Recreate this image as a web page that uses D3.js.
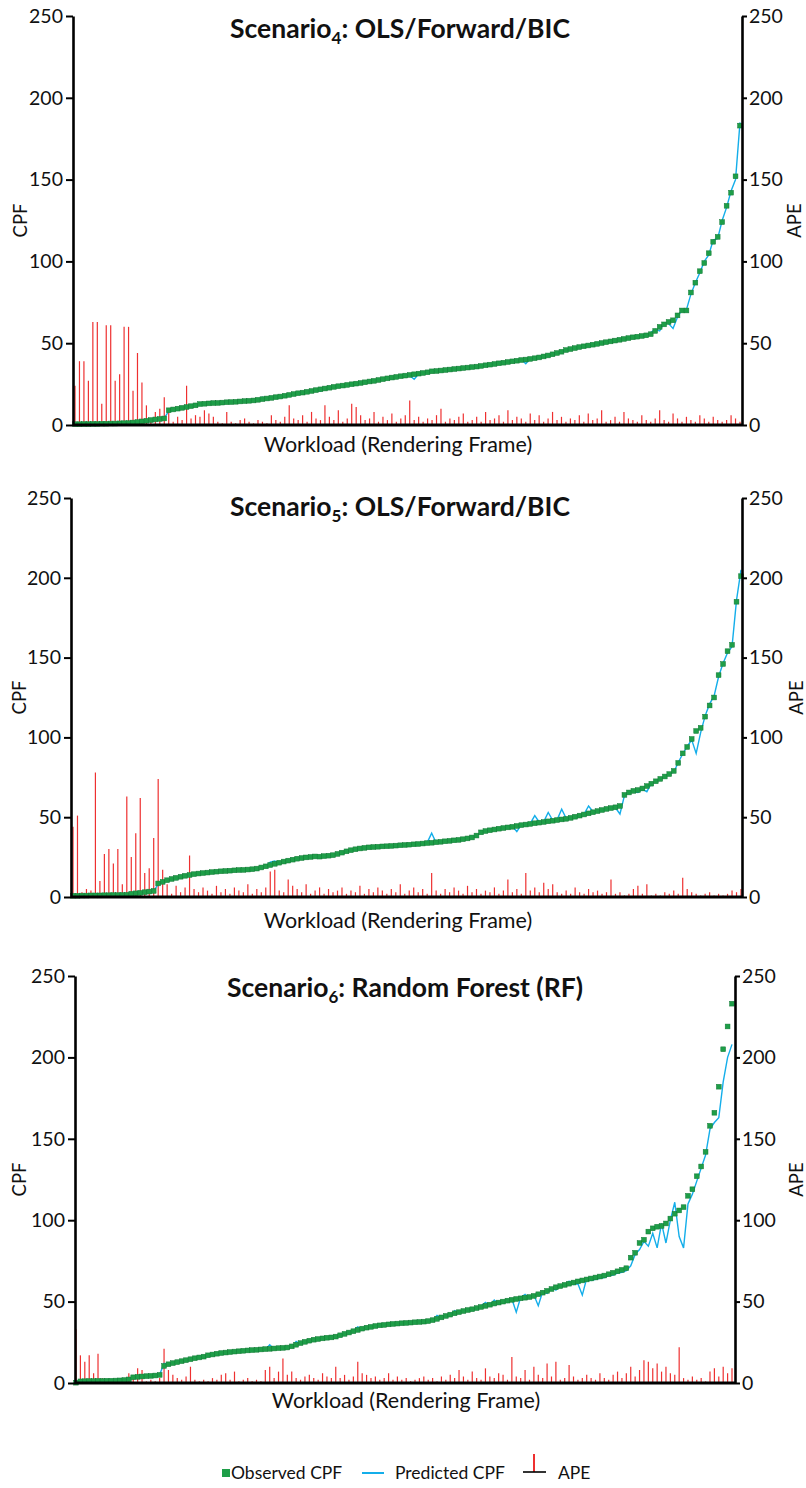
<!DOCTYPE html>
<html>
<head>
<meta charset="utf-8">
<script src="https://cdn.jsdelivr.net/npm/d3@7"></script>
<style>
body { margin: 0; background: #fff; }
svg { font-family: Lato, "Open Sans", sans-serif; }
</style>
</head>
<body>
<svg id="chart" width="806" height="1488"></svg>
<script>
// Global Variables
// Scenario 4 (OLS/Forward/BIC), frames sorted by observed CPF
var obs4 = [0.5,0.5,0.6,0.6,0.7,0.7,0.8,0.8,0.9,0.9,
  1.0,1.1,1.2,1.5,1.8,2.2,2.6,3.0,3.4,3.7,
  4.0,9.0,9.5,10.0,10.5,11.0,11.5,12.0,12.8,13.0,
  13.2,13.4,13.5,13.7,13.9,14.0,14.2,14.4,14.6,14.8,
  15.0,15.4,15.8,16.2,16.6,17.0,17.4,17.9,18.4,18.9,
  19.4,19.8,20.3,20.8,21.3,21.8,22.3,22.8,23.3,23.7,
  24.1,24.5,24.9,25.3,25.7,26.1,26.6,27.0,27.5,28.0,
  28.5,29.0,29.4,29.8,30.2,30.6,31.0,31.4,31.8,32.2,
  32.8,33.0,33.3,33.6,33.9,34.2,34.5,34.8,35.1,35.4,
  35.7,36.1,36.5,36.9,37.3,37.7,38.1,38.5,38.9,39.3,
  39.7,40.0,40.4,40.8,41.3,41.9,42.5,43.2,44.0,44.8,
  45.8,46.4,47.0,47.6,48.1,48.6,49.1,49.6,50.1,50.6,
  51.1,51.6,52.1,52.6,53.1,53.6,54.0,54.4,54.8,55.5,
  57.5,60,61.5,63,64,67,70,70,81,87,
  94,99,105,112,115,124,134,142,152,183];
var pred4 = [0.6,0.4,0.7,0.5,0.8,0.6,0.9,0.7,1.0,0.8,
  1.1,1.0,1.3,1.4,1.9,2.1,2.7,2.9,3.5,3.6,
  4.1,8.6,9.8,9.7,10.8,10.4,11.8,12.3,12.5,13.3,
  13.0,13.7,13.2,14.0,13.6,14.3,13.9,14.7,14.3,15.1,
  14.7,15.6,16.9,15.9,16.8,16.7,17.7,17.6,18.7,18.5,
  19.7,19.5,20.6,20.4,21.7,20.6,22.6,22.5,23.6,23.3,
  24.4,24.2,25.3,24.7,26.0,25.8,26.9,26.7,27.8,27.7,
  28.8,28.6,29.7,29.5,30.5,30.3,28.0,31.1,32.1,31.9,
  33.1,32.7,33.6,33.3,34.2,33.9,34.8,34.5,35.4,35.1,
  36.0,35.8,36.8,36.6,37.6,37.4,38.4,38.2,39.2,38.8,
  40.0,37.5,40.8,40.6,41.6,41.6,42.8,42.9,44.3,44.5,
  46.1,46.1,47.3,47.3,48.4,48.3,49.4,49.3,50.4,50.3,
  51.4,51.3,52.4,52.3,53.4,53.3,54.3,54.7,54.5,56.5,
  58.5,57.5,62.5,62.0,59.0,66.0,70.5,70.5,80,87,
  93,100,104,113,114,125,133,143,150,185];
var ape4 = [24,39,39,27,63,63,13,61,61,27,
  31,60,60,21,44,26,12,4,8,10,
  17,8,2,5,3,24,4,6,5,9,
  7,5,2,1,8,2,1,3,4,2,
  1,3,2,1,6,3,2,5,12,4,
  3,6,2,8,4,3,12,5,3,9,
  2,4,13,11,6,3,4,8,2,5,
  3,7,2,4,6,15,3,5,2,4,
  3,6,10,2,4,3,5,7,2,3,
  5,2,8,3,4,6,2,9,3,5,
  4,2,7,3,6,2,4,8,3,5,
  2,4,3,6,2,7,3,4,9,2,
  3,5,2,8,4,3,2,6,3,2,
  4,9,3,2,7,4,2,5,3,2,
  6,4,2,5,3,2,3,6,4,2];

// Scenario 5 (OLS/Forward/BIC)
var obs5 = [0.8,0.8,0.9,0.9,1.0,1.0,1.0,1.1,1.1,1.2,
  1.2,1.3,1.4,2.0,2.3,2.6,3.0,3.4,3.8,8.5,
  9.5,10.5,11.3,12.0,12.7,13.3,13.8,14.3,14.7,15.0,
  15.3,15.6,15.9,16.1,16.3,16.5,16.7,16.9,17.0,17.2,
  17.4,17.8,18.5,19.2,20.0,20.8,21.5,22.2,22.8,23.4,
  24.0,24.4,24.8,25.1,25.4,25.3,25.6,25.9,26.2,27.0,
  27.8,28.6,29.3,29.9,30.4,30.8,31.1,31.3,31.5,31.7,
  31.8,32.0,32.2,32.4,32.6,32.8,33.0,33.2,33.5,33.8,
  34.0,34.3,34.6,34.9,35.2,35.5,35.8,36.2,36.7,37.3,
  38.5,40.5,41.3,41.8,42.3,42.8,43.2,43.6,44.0,44.5,
  45.0,45.4,45.8,46.2,46.6,47.0,47.4,47.8,48.2,48.6,
  49.0,49.6,50.3,51.0,51.7,52.4,53.1,53.8,54.5,55.2,
  55.7,56.2,57.0,64.0,65.5,66.5,67.0,68.0,69.5,71.0,
  72.5,74.0,75.5,77.0,79.0,84.0,90.0,94.0,99.0,104.0,
  106,113,120,125,139,146,154,158,185,201];
var pred5 = [0.9,0.7,1.0,0.8,1.1,0.9,1.1,1.0,1.2,1.1,
  1.3,1.2,1.5,2.1,2.2,2.7,2.9,3.5,3.7,8.0,
  9.8,10.2,11.6,11.0,12.9,13.5,14.0,14.6,14.5,15.3,
  15.0,15.9,15.6,16.4,16.0,16.8,16.4,17.2,16.8,17.5,
  17.1,18.1,18.2,19.6,21.8,22.5,21.2,22.6,22.4,23.8,
  23.7,24.8,24.5,25.4,25.1,25.6,25.5,26.5,26.2,27.3,
  27.5,28.9,29.0,30.2,30.1,31.1,30.8,31.6,31.2,32.0,
  31.5,32.3,31.9,32.7,32.3,33.1,32.7,33.5,33.2,34.1,
  40.0,34.0,34.9,34.3,35.5,35.2,36.1,35.9,37.0,37.0,
  38.8,40.2,41.6,41.5,42.6,42.5,43.5,43.3,44.3,41.0,
  45.3,45.1,46.1,51.0,46.9,47.3,53.0,48.1,48.5,55.0,
  49.3,49.3,50.6,50.7,52.0,57.0,53.4,53.5,54.8,54.9,
  56.0,55.9,52.0,63.5,65.8,66.0,65.5,67.6,66.0,71.3,
  72.2,74.3,75.2,77.3,78.2,84.3,89.7,94.3,98.5,90.0,
  103,113.5,121,126,138,146.5,153,157,186,205];
var ape5 = [44,51,3,5,4,78,10,27,30,21,
  30,8,63,25,40,62,15,18,37,74,
  17,8,2,7,3,6,26,5,3,6,
  4,2,7,3,5,2,6,4,3,8,
  2,5,3,6,16,17,4,3,11,7,
  5,3,8,2,4,6,2,5,3,4,
  6,2,4,3,7,2,5,3,6,4,
  2,5,3,8,2,4,6,3,5,2,
  15,4,2,5,3,6,4,2,7,3,
  5,2,4,3,6,2,4,11,3,5,
  2,15,4,6,3,9,5,8,3,2,
  4,2,6,3,2,5,3,4,2,3,
  11,2,3,1,2,5,7,2,8,1,
  2,1,3,2,4,2,12,5,3,2,
  1,2,3,1,2,1,2,4,3,5];

// Scenario 6 (Random Forest)
var obs6 = [0.2,1.0,1.1,1.2,1.2,1.3,1.3,1.4,1.4,1.5,
  1.6,1.8,2.2,3.5,3.8,4.0,4.2,4.4,4.6,5.0,
  10.5,11.5,12.2,12.8,13.4,14.0,14.6,15.2,15.7,16.2,
  17.0,17.5,18.0,18.4,18.7,19.0,19.3,19.5,19.8,20.0,
  20.2,20.4,20.6,20.8,21.0,21.2,21.4,21.6,21.8,22.5,
  23.5,24.5,25.3,26.0,26.6,27.0,27.4,27.8,28.0,28.5,
  29.3,30.2,31.0,31.8,32.6,33.4,34.0,34.5,35.0,35.4,
  35.7,36.0,36.3,36.5,36.7,36.9,37.1,37.3,37.5,37.7,
  38.0,38.6,39.4,40.3,41.2,42.0,42.8,43.5,44.2,44.8,
  45.3,46.0,46.7,47.4,48.1,48.8,49.4,50.0,50.6,51.1,
  51.6,52.0,52.4,52.8,53.5,54.5,55.5,56.6,57.7,58.8,
  59.5,60.3,61.0,61.7,62.4,63.0,63.6,64.2,64.8,65.4,
  66.0,66.8,67.7,68.6,69.5,70.5,77.0,80.0,86.0,88.0,
  93,95,96,96.5,98,101,104,106,108,115,
  119,127,133,142,158,166,182,205,219,233];
var pred6 = [0.5,1.2,0.9,1.4,1.0,1.5,1.1,1.6,1.2,1.7,
  1.4,2.0,2.4,3.3,4.0,3.8,4.4,4.2,4.8,5.2,
  12.0,11.2,12.6,12.5,13.8,13.9,15.0,15.5,16.4,16.0,
  17.2,17.3,18.2,18.1,19.0,18.8,19.6,19.3,20.1,19.8,
  20.5,20.1,21.0,20.5,23.5,20.8,21.8,21.2,22.2,22.0,
  25.5,23.8,25.8,25.7,26.9,27.4,27.2,28.3,27.7,29.0,
  29.0,30.6,30.8,32.2,34.5,32.9,34.5,34.2,35.4,35.1,
  36.0,35.7,36.7,36.2,37.0,36.6,37.5,37.0,37.9,37.4,
  38.4,38.3,41.5,40.0,41.6,41.5,44.5,43.2,44.6,44.3,
  45.8,45.4,47.3,49.5,47.5,51.0,48.5,50.4,49.5,51.6,
  43.5,52.6,54.5,52.0,54.0,47.5,56.2,55.0,58.5,57.0,
  60.2,59.3,62.5,60.5,61.0,54.0,64.3,63.0,63.7,64.3,
  64.8,66.0,66.3,67.5,68.0,69.0,72.0,79.0,82.0,87.0,
  84.0,92.0,83.0,98.0,86.0,100.0,111.0,90.0,83.0,110.0,
  116,124,132,140,156,160,163,185,200,208];
var ape6 = [33,17,13,17,6,18,3,2,1,2,
  1,3,6,4,9,8,1,2,1,3,
  21,8,5,3,2,4,10,2,1,2,
  1,3,2,5,6,2,7,1,2,3,
  1,2,1,8,10,3,7,15,5,7,
  3,2,4,5,3,2,6,4,3,10,
  3,5,2,4,13,6,5,3,4,2,
  3,6,2,4,2,3,1,2,3,4,
  2,3,1,4,2,5,3,8,4,2,
  7,3,2,9,4,3,6,5,2,16,
  4,3,8,2,10,5,3,12,4,13,
  2,3,11,4,2,3,5,3,2,6,
  3,2,5,7,3,6,10,4,8,14,
  13,9,12,7,10,6,5,22,3,2,
  4,2,3,1,7,9,4,10,6,9];

var yTicks = [0, 50, 100, 150, 200, 250];
var legendLabels = ["Observed CPF", "Predicted CPF", "APE"];

var green = "#1e9e48", blue = "#14aeea", red = "#ee3030";

var svg = d3.select("#chart");

// Functions
function makePanel(obs, pred, ape, title, box) {
    var g = svg.append("g");

    var x = d3.scaleLinear().domain([0, obs.length - 1]).range([box.x0, box.x1]);
    var y = d3.scaleLinear().domain([0, 250]).range([box.bottom, box.top]);
    var y2 = d3.scaleLinear().domain([0, 250]).range([box.bottom, box.top]);

    // APE bars
    g.append("g").selectAll("line")
        .data(ape)
        .enter().append("line")
          .attr("x1", function(d, i) { return x(i); })
          .attr("x2", function(d, i) { return x(i); })
          .attr("y1", y2(0))
          .attr("y2", function(d) { return y2(d); })
          .style("stroke", red)
          .style("stroke-width", 1.2);

    // Predicted CPF line
    var valueline = d3.line()
        .x(function(d, i) { return x(i); })
        .y(function(d) { return y(d); });
    g.append("path")
        .attr("d", valueline(pred))
        .style("fill", "none")
        .style("stroke", blue)
        .style("stroke-width", 1.4);

    // Observed CPF markers
    g.append("g").selectAll("rect")
        .data(obs)
        .enter().append("rect")
          .attr("x", function(d, i) { return x(i) - 2.4; })
          .attr("y", function(d) { return y(d) - 2.4; })
          .attr("width", 4.8)
          .attr("height", 4.8)
          .style("fill", green)
          .style("stroke", "#127a36")
          .style("stroke-width", 0.5);

    // Left axis
    var la = g.append("g")
        .attr("transform", "translate(" + box.left + ",0)")
        .call(d3.axisLeft(y).tickValues(yTicks).tickSize(7).tickSizeOuter(0).tickPadding(3));
    // Right axis
    var ra = g.append("g")
        .attr("transform", "translate(" + box.right + ",0)")
        .call(d3.axisRight(y2).tickValues(yTicks).tickSize(5).tickSizeOuter(0).tickPadding(2));
    [la, ra].forEach(function(a) {
        a.select(".domain").style("stroke", "#000").style("stroke-width", 2.6);
        a.selectAll(".tick line").style("stroke", "#000").style("stroke-width", 2);
        a.selectAll(".tick text").style("font-size", "19.5px").style("fill", "#111")
            .style("font-family", "Lato, sans-serif");
    });

    // Bottom axis line
    g.append("line")
        .attr("x1", box.left).attr("x2", box.right)
        .attr("y1", y(0)).attr("y2", y(0))
        .style("stroke", "#000").style("stroke-width", 3);

    // Title with subscript
    var t = g.append("text")
        .attr("x", box.titleX).attr("y", box.titleY)
        .attr("text-anchor", "middle")
        .style("font-size", "26.5px").style("font-weight", "bold").style("fill", "#111");
    t.append("tspan").text(title[0]);
    t.append("tspan").attr("dy", 6).style("font-size", "17px").text(title[1]);
    t.append("tspan").attr("dy", -6).text(title[2]);

    // Axis titles
    g.append("text")
        .attr("transform", "translate(" + box.cpfX + "," + (box.top + box.bottom) / 2 + ") rotate(-90)")
        .attr("text-anchor", "middle").attr("dy", "0.35em")
        .style("font-size", "18.5px").style("fill", "#111")
        .text("CPF");
    g.append("text")
        .attr("transform", "translate(" + box.apeX + "," + (box.top + box.bottom) / 2 + ") rotate(-90)")
        .attr("text-anchor", "middle").attr("dy", "0.35em")
        .style("font-size", "18.5px").style("fill", "#111")
        .text("APE");
    g.append("text")
        .attr("x", box.xLabelX).attr("y", box.xLabelY)
        .attr("text-anchor", "middle")
        .style("font-size", "21.5px").style("fill", "#111")
        .text("Workload (Rendering Frame)");
}

makePanel(obs4, pred4, ape4, ["Scenario", "4", ": OLS/Forward/BIC"],
    {left: 73, right: 742, top: 16, bottom: 425, x0: 75, x1: 740,
     titleX: 400, titleY: 38, cpfX: 21, apeX: 795, xLabelX: 398, xLabelY: 452});
makePanel(obs5, pred5, ape5, ["Scenario", "5", ": OLS/Forward/BIC"],
    {left: 71, right: 742, top: 498, bottom: 897, x0: 73, x1: 741,
     titleX: 400, titleY: 516, cpfX: 20, apeX: 797, xLabelX: 398, xLabelY: 928});
makePanel(obs6, pred6, ape6, ["Scenario", "6", ": Random Forest (RF)"],
    {left: 75, right: 735, top: 976, bottom: 1383, x0: 76, x1: 732,
     titleX: 405, titleY: 997, cpfX: 20, apeX: 797, xLabelX: 406, xLabelY: 1408});

// Legend
var lg = svg.append("g").style("font-size", "17.5px").style("fill", "#111");
lg.append("rect").attr("x", 222).attr("y", 1469).attr("width", 8).attr("height", 8).style("fill", green);
lg.append("text").attr("x", 231).attr("y", 1479).text(legendLabels[0]);
lg.append("line").attr("x1", 362).attr("x2", 384).attr("y1", 1473).attr("y2", 1473)
    .style("stroke", blue).style("stroke-width", 2);
lg.append("text").attr("x", 395).attr("y", 1479).text(legendLabels[1]);
lg.append("line").attr("x1", 534).attr("x2", 534).attr("y1", 1454).attr("y2", 1472)
    .style("stroke", red).style("stroke-width", 2);
lg.append("line").attr("x1", 523).attr("x2", 546).attr("y1", 1472).attr("y2", 1472)
    .style("stroke", "#000").style("stroke-width", 1.6);
lg.append("text").attr("x", 558).attr("y", 1479).text(legendLabels[2]);
</script>
</body>
</html>
